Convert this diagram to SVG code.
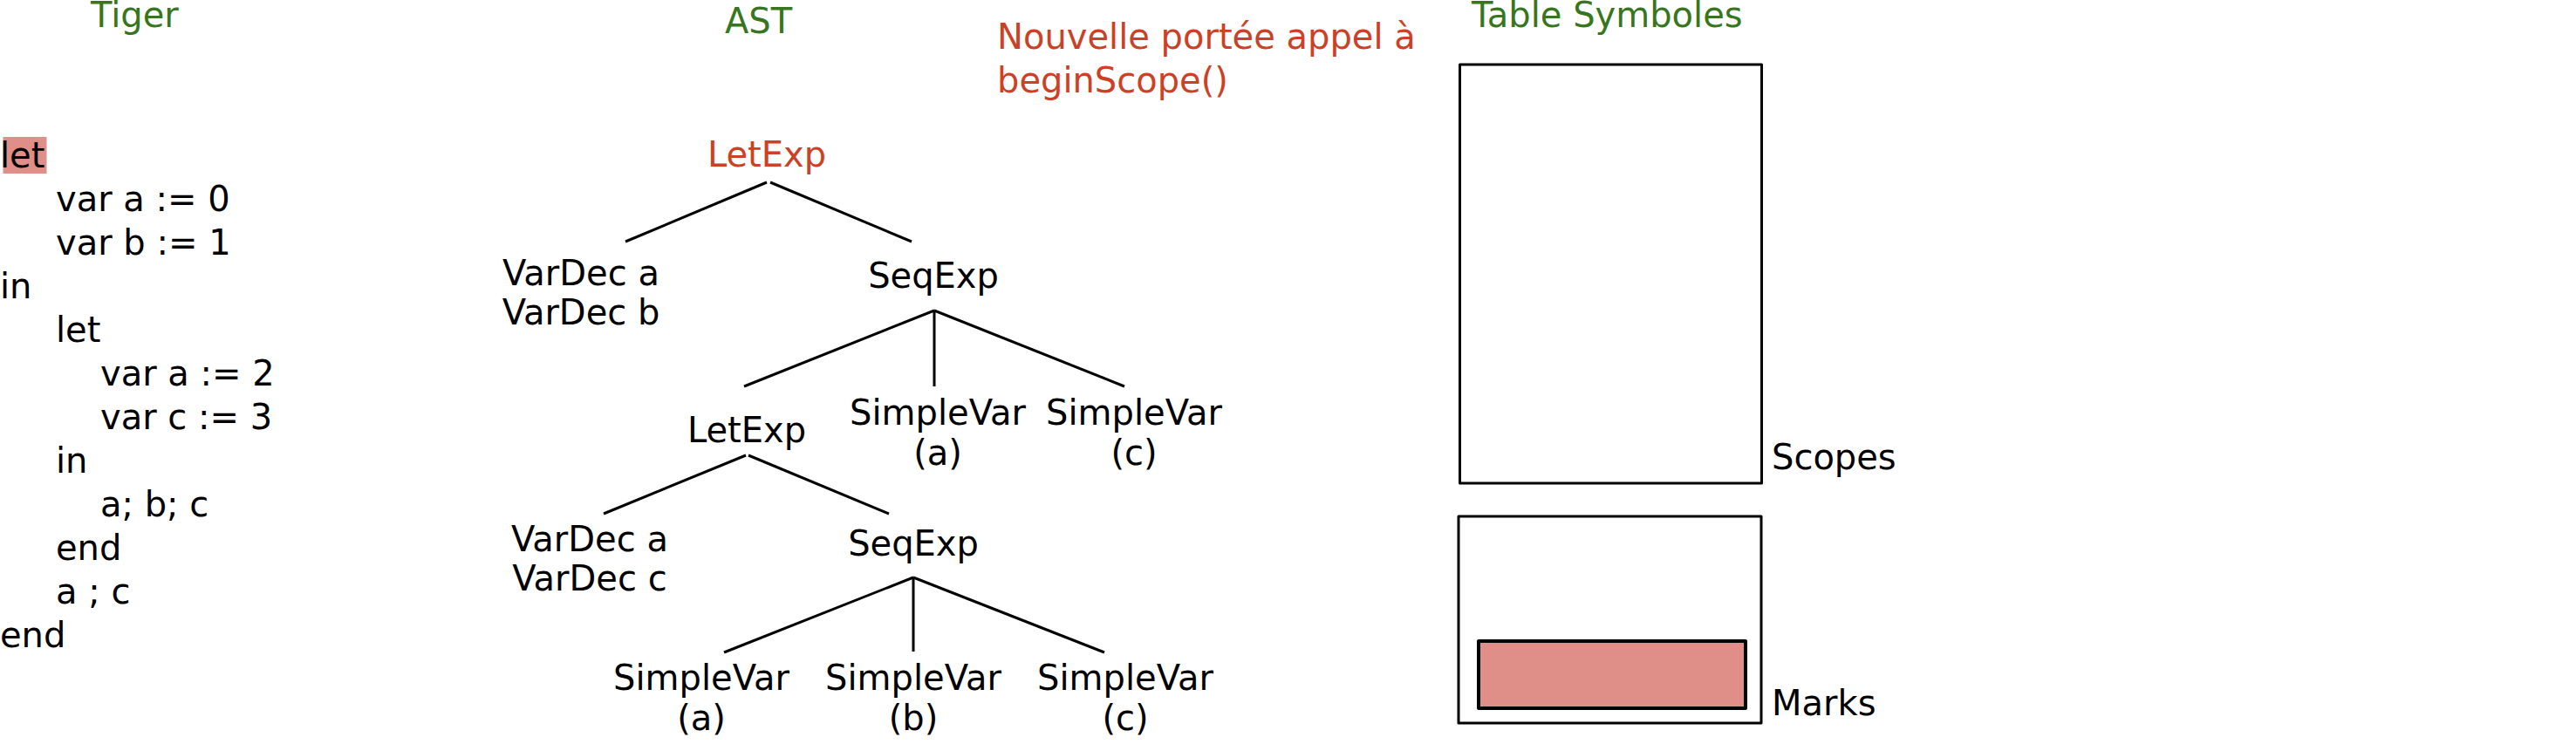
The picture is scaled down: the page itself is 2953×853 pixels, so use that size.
<svg xmlns="http://www.w3.org/2000/svg" width="2953" height="853" viewBox="0 0 2953 853">
<style>
text{font-family:"DejaVu Sans","Liberation Sans",sans-serif;font-size:40px;fill:#000}
.title{fill:#38761d}
.red{fill:#cc4125}
.c{text-anchor:middle}
.edge{stroke:#000;stroke-width:3;fill:none;stroke-linecap:butt}
.box{stroke:#000;stroke-width:3;fill:none;stroke-linejoin:round}
.hl{fill:#e08e88}
</style>
<rect width="2953" height="853" fill="#fff"/>
<g id="tiger">
<text class="title" x="104" y="31">Tiger</text>
<rect class="hl" x="3.5" y="157" width="50" height="42"/>
<text x="0" y="191.7">let</text>
<text x="64" y="241.7">var a := 0</text>
<text x="64" y="291.7">var b := 1</text>
<text x="0" y="341.7">in</text>
<text x="64" y="391.7">let</text>
<text x="115" y="441.7">var a := 2</text>
<text x="115" y="491.7">var c := 3</text>
<text x="64" y="541.7">in</text>
<text x="115" y="591.7">a; b; c</text>
<text x="64" y="641.7">end</text>
<text x="64" y="691.7">a ; c</text>
<text x="0" y="741.7">end</text>
</g>
<g id="ast-title"><text class="title" x="831" y="38">AST</text></g>
<g id="note">
<text class="red" x="1143" y="56">Nouvelle portée appel à</text>
<text class="red" x="1143" y="106">beginScope()</text>
</g>
<g id="connectors">
<line class="edge" x1="879" y1="209" x2="717" y2="277"/>
<line class="edge" x1="883" y1="209" x2="1045" y2="277"/>
<line class="edge" x1="1071" y1="356" x2="853" y2="443"/>
<line class="edge" x1="1071" y1="356" x2="1071" y2="443"/>
<line class="edge" x1="1071" y1="356" x2="1289" y2="443"/>
<line class="edge" x1="855" y1="522" x2="692" y2="589"/>
<line class="edge" x1="858" y1="522" x2="1019" y2="589"/>
<line class="edge" x1="1047" y1="662" x2="830" y2="748"/>
<line class="edge" x1="1047" y1="662" x2="1047" y2="747"/>
<line class="edge" x1="1047" y1="662" x2="1266" y2="748"/>
</g>
<g id="letexp1"><text class="red c" x="879" y="191">LetExp</text></g>
<g id="vardec-ab"><text class="c" x="666" y="327">VarDec a</text><text class="c" x="666" y="372">VarDec b</text></g>
<g id="seqexp1"><text class="c" x="1070" y="330">SeqExp</text></g>
<g id="letexp2"><text class="c" x="856" y="507">LetExp</text></g>
<g id="simplevar-a1"><text class="c" x="1075" y="487">SimpleVar</text><text class="c" x="1075" y="533">(a)</text></g>
<g id="simplevar-c1"><text class="c" x="1300" y="487">SimpleVar</text><text class="c" x="1300" y="533">(c)</text></g>
<g id="vardec-ac"><text class="c" x="676" y="632">VarDec a</text><text class="c" x="676" y="677">VarDec c</text></g>
<g id="seqexp2"><text class="c" x="1047" y="637">SeqExp</text></g>
<g id="simplevar-a2"><text class="c" x="804" y="791">SimpleVar</text><text class="c" x="804" y="837">(a)</text></g>
<g id="simplevar-b2"><text class="c" x="1047" y="791">SimpleVar</text><text class="c" x="1047" y="837">(b)</text></g>
<g id="simplevar-c2"><text class="c" x="1290" y="791">SimpleVar</text><text class="c" x="1290" y="837">(c)</text></g>
<g id="table-title"><text class="title" x="1687" y="31">Table Symboles</text></g>
<g id="scopes">
<rect class="box" x="1673.5" y="74" width="346" height="480"/>
<text x="2031" y="538">Scopes</text>
</g>
<g id="marks">
<rect class="box" x="1672" y="592" width="347" height="237"/>
<rect class="hl" x="1695" y="735" width="306" height="77" stroke="#000" stroke-width="4" stroke-linejoin="round"/>
<text x="2031" y="820">Marks</text>
</g>
</svg>
